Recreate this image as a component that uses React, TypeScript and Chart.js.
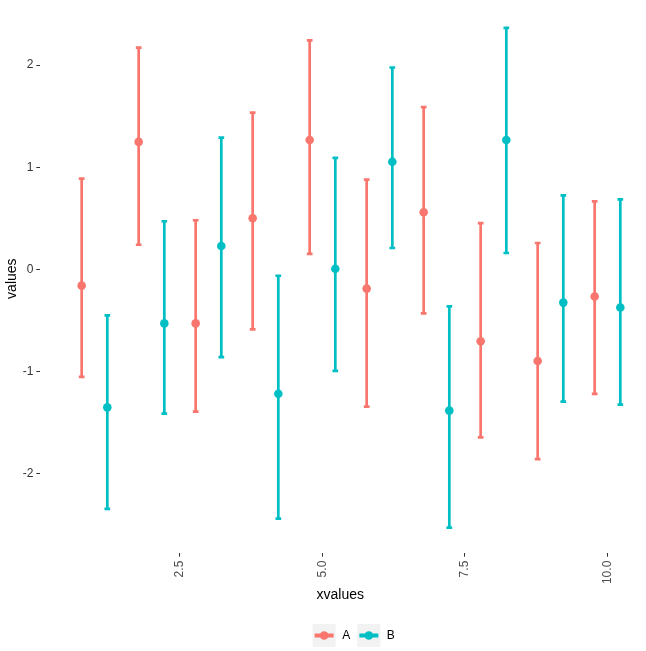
import { useEffect, useRef } from "react";
import { Chart, registerables } from "chart.js";

Chart.register(...registerables);

// Groups and their colours
const groupLabels = ["A", "B"];
const groupColors = ["#F8766D", "#00BFC4"];

// x positions shared by both groups
const xValues = [1, 2, 3, 4, 5, 6, 7, 8, 9, 10];

// Group A: point estimate with lower / upper limits
const meanA = [-0.161, 1.248, -0.531, 0.5, 1.267, -0.19, 0.558, -0.706, -0.9, -0.268];
const lowerA = [-1.055, 0.24, -1.396, -0.589, 0.15, -1.347, -0.433, -1.648, -1.862, -1.221];
const upperA = [0.888, 2.171, 0.48, 1.535, 2.242, 0.879, 1.588, 0.451, 0.257, 0.665];

// Group B: point estimate with lower / upper limits
const meanB = [-1.354, -0.531, 0.227, -1.221, 0.004, 1.053, -1.386, 1.267, -0.327, -0.375];
const lowerB = [-2.348, -1.415, -0.861, -2.445, -0.997, 0.208, -2.533, 0.159, -1.298, -1.327];
const upperB = [-0.453, 0.47, 1.29, -0.064, 1.092, 1.977, -0.365, 2.365, 0.723, 0.684];

// Axis ticks
const xTicks = [2.5, 5, 7.5, 10];
const xTickLabels = ["2.5", "5.0", "7.5", "10.0"];
const yTicks = [-2, -1, 0, 1, 2];

// Axis ranges
const xRange = [0.044, 10.579];
const yRange = [-2.7813, 2.5965];

// side-by-side dodge and error bar cap width (x units)
const dodgeWidth = 0.45;
const capWidth = 0.1;

const FONT = '"Liberation Sans", Arial, Helvetica, sans-serif';

const series = [
  { label: groupLabels[0], color: groupColors[0], offset: -dodgeWidth / 2, mean: meanA, lower: lowerA, upper: upperA },
  { label: groupLabels[1], color: groupColors[1], offset: dodgeWidth / 2, mean: meanB, lower: lowerB, upper: upperB },
];

const errorBarPlugin = {
  id: "errorBars",
  beforeDatasetsDraw(chart: any) {
    const { ctx, scales } = chart;
    const xs = scales.x;
    const ys = scales.y;
    series.forEach((s) => {
      ctx.save();
      ctx.strokeStyle = s.color;
      ctx.lineWidth = 2.7;
      ctx.lineCap = "butt";
      xValues.forEach((xv, i) => {
        const cx = xs.getPixelForValue(xv + s.offset);
        const x0 = xs.getPixelForValue(xv + s.offset - capWidth / 2);
        const x1 = xs.getPixelForValue(xv + s.offset + capWidth / 2);
        const yl = ys.getPixelForValue(s.lower[i]);
        const yu = ys.getPixelForValue(s.upper[i]);
        ctx.beginPath();
        ctx.moveTo(cx, yl);
        ctx.lineTo(cx, yu);
        ctx.moveTo(x0, yu);
        ctx.lineTo(x1, yu);
        ctx.moveTo(x0, yl);
        ctx.lineTo(x1, yl);
        ctx.stroke();
      });
      ctx.restore();
    });
  },
};

const keyLegendPlugin = {
  id: "keyLegend",
  afterDraw(chart: any) {
    const { ctx, chartArea } = chart;
    const keySize = 23;
    const keyTextGap = 6.5;
    const itemGap = 7.2;
    ctx.save();
    ctx.font = `12px ${FONT}`;
    const widths = series.map((s) => ctx.measureText(s.label).width);
    const total =
      widths.reduce((a, w) => a + keySize + keyTextGap + w, 0) + itemGap * (series.length - 1);
    let x = (chartArea.left + chartArea.right) / 2 + 13.5 - total / 2;
    const top = chart.height - 27;
    const cy = top + keySize / 2;
    series.forEach((s, i) => {
      ctx.fillStyle = "#F2F2F2";
      ctx.fillRect(x, top, keySize, keySize);
      ctx.strokeStyle = s.color;
      ctx.lineWidth = 4;
      ctx.beginPath();
      ctx.moveTo(x + 2, cy);
      ctx.lineTo(x + keySize - 2, cy);
      ctx.stroke();
      ctx.fillStyle = s.color;
      ctx.beginPath();
      ctx.arc(x + keySize / 2, cy, 4.3, 0, Math.PI * 2);
      ctx.fill();
      ctx.fillStyle = "#000000";
      ctx.textBaseline = "middle";
      ctx.textAlign = "left";
      ctx.fillText(s.label, x + keySize + keyTextGap, cy);
      x += keySize + keyTextGap + widths[i] + itemGap;
    });
    ctx.restore();
  },
};

export default function App() {
  const canvasRef = useRef<HTMLCanvasElement | null>(null);

  useEffect(() => {
    if (!canvasRef.current) return;
    Chart.defaults.font.family = FONT;

    const chart = new Chart(canvasRef.current, {
      type: "scatter",
      data: {
        datasets: series.map((s) => ({
          label: s.label,
          data: xValues.map((xv, i) => ({ x: xv + s.offset, y: s.mean[i] })),
          backgroundColor: s.color,
          borderColor: s.color,
          pointRadius: 4.3,
          pointBorderWidth: 0,
          pointHoverRadius: 4.3,
          showLine: false,
        })),
      },
      options: {
        animation: false,
        responsive: false,
        events: [],
        layout: { padding: { left: 0, right: 5.5, top: 0, bottom: 0 } },
        plugins: {
          legend: { display: false },
          tooltip: { enabled: false },
        },
        scales: {
          x: {
            type: "linear",
            min: xRange[0],
            max: xRange[1],
            afterBuildTicks: (scale: any) => {
              scale.ticks = xTicks.map((v) => ({ value: v }));
            },
            afterFit: (scale: any) => {
              scale.height = 98;
              scale.paddingLeft = 0;
              scale.paddingRight = 0;
            },
            ticks: {
              minRotation: 90,
              maxRotation: 90,
              autoSkip: false,
              color: "#4D4D4D",
              font: { size: 12 },
              padding: 4,
              callback: (_v: any, i: number) => xTickLabels[i],
            },
            grid: {
              display: true,
              drawOnChartArea: false,
              drawTicks: true,
              tickLength: 3.7,
              tickColor: "#333333",
              tickWidth: 1,
            },
            border: { display: false },
            title: {
              display: true,
              text: "xvalues",
              color: "#000000",
              font: { size: 14 },
              padding: { top: 0, bottom: 47 },
            },
          },
          y: {
            type: "linear",
            min: yRange[0],
            max: yRange[1],
            afterBuildTicks: (scale: any) => {
              scale.ticks = yTicks.map((v) => ({ value: v }));
            },
            afterFit: (scale: any) => {
              scale.width = 40;
              scale.paddingTop = 0;
              scale.paddingBottom = 0;
            },
            ticks: {
              autoSkip: false,
              color: "#333333",
              font: { size: 12 },
              padding: 3,
              callback: (v: any) => String(v),
            },
            grid: {
              display: true,
              drawOnChartArea: false,
              drawTicks: true,
              tickLength: 3.7,
              tickColor: "#333333",
              tickWidth: 1,
            },
            border: { display: false },
            title: {
              display: true,
              text: "values",
              color: "#000000",
              font: { size: 14 },
              padding: { top: 4, bottom: 0 },
            },
          },
        },
      },
      plugins: [errorBarPlugin, keyLegendPlugin],
    } as any);

    return () => chart.destroy();
  }, []);

  return (
    <div style={{ position: "fixed", left: 0, top: 0, width: 646, height: 651, background: "#ffffff" }}>
      <canvas ref={canvasRef} width={646} height={651} style={{ display: "block" }} />
    </div>
  );
}
